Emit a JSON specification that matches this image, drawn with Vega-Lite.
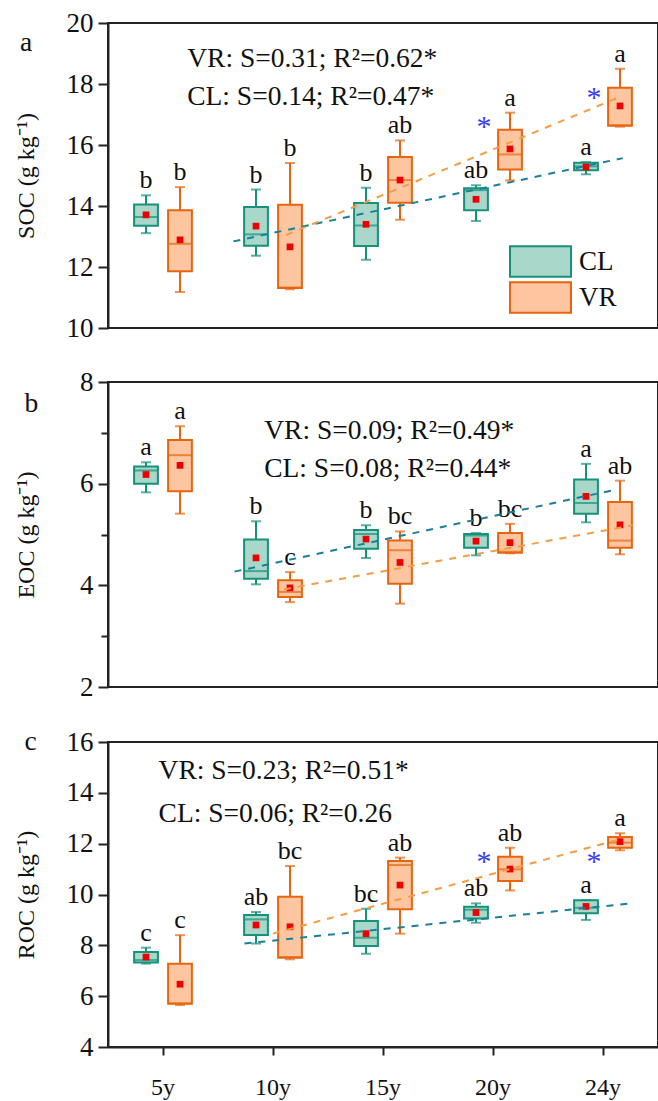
{
  "$schema": "https://vega.github.io/schema/vega-lite/v6.json",
  "padding": {"left": 13, "top": 8, "right": 0, "bottom": 0},
  "background": "white",
  "datasets": {
    "boxes": [
      {"var": "SOC", "year": "5y", "group": "CL", "lower": 13.11, "q1": 13.35, "median": 13.64, "q3": 14.05, "upper": 14.35, "mean": 13.71, "label": "b"},
      {"var": "SOC", "year": "5y", "group": "VR", "lower": 11.18, "q1": 11.86, "median": 12.76, "q3": 13.86, "upper": 14.62, "mean": 12.89, "label": "b"},
      {"var": "SOC", "year": "10y", "group": "CL", "lower": 12.37, "q1": 12.7, "median": 13.07, "q3": 13.97, "upper": 14.54, "mean": 13.34, "label": "b"},
      {"var": "SOC", "year": "10y", "group": "VR", "lower": 11.27, "q1": 11.31, "median": 11.33, "q3": 14.04, "upper": 15.41, "mean": 12.66, "label": "b"},
      {"var": "SOC", "year": "15y", "group": "CL", "lower": 12.24, "q1": 12.69, "median": 13.36, "q3": 14.1, "upper": 14.6, "mean": 13.4, "label": "b"},
      {"var": "SOC", "year": "15y", "group": "VR", "lower": 13.55, "q1": 14.11, "median": 14.85, "q3": 15.61, "upper": 16.15, "mean": 14.85, "label": "ab"},
      {"var": "SOC", "year": "20y", "group": "CL", "lower": 13.51, "q1": 13.86, "median": 14.52, "q3": 14.58, "upper": 14.68, "mean": 14.22, "label": "ab"},
      {"var": "SOC", "year": "20y", "group": "VR", "lower": 14.84, "q1": 15.2, "median": 15.69, "q3": 16.5, "upper": 17.06, "mean": 15.87, "label": "a"},
      {"var": "SOC", "year": "24y", "group": "CL", "lower": 15.04, "q1": 15.17, "median": 15.3, "q3": 15.42, "upper": 15.44, "mean": 15.28, "label": "a"},
      {"var": "SOC", "year": "24y", "group": "VR", "lower": 16.6, "q1": 16.63, "median": 16.65, "q3": 17.88, "upper": 18.5, "mean": 17.28, "label": "a"},
      {"var": "EOC", "year": "5y", "group": "CL", "lower": 5.83, "q1": 6.0, "median": 6.26, "q3": 6.34, "upper": 6.42, "mean": 6.18, "label": "a"},
      {"var": "EOC", "year": "5y", "group": "VR", "lower": 5.41, "q1": 5.85, "median": 6.56, "q3": 6.86, "upper": 7.13, "mean": 6.36, "label": "a"},
      {"var": "EOC", "year": "10y", "group": "CL", "lower": 4.02, "q1": 4.13, "median": 4.28, "q3": 4.9, "upper": 5.26, "mean": 4.54, "label": "b"},
      {"var": "EOC", "year": "10y", "group": "VR", "lower": 3.67, "q1": 3.77, "median": 3.87, "q3": 4.1, "upper": 4.26, "mean": 3.95, "label": "c"},
      {"var": "EOC", "year": "15y", "group": "CL", "lower": 4.54, "q1": 4.72, "median": 5.01, "q3": 5.09, "upper": 5.18, "mean": 4.91, "label": "b"},
      {"var": "EOC", "year": "15y", "group": "VR", "lower": 3.64, "q1": 4.03, "median": 4.69, "q3": 4.88, "upper": 5.06, "mean": 4.45, "label": "bc"},
      {"var": "EOC", "year": "20y", "group": "CL", "lower": 4.59, "q1": 4.74, "median": 4.98, "q3": 5.01, "upper": 5.03, "mean": 4.87, "label": "b"},
      {"var": "EOC", "year": "20y", "group": "VR", "lower": 4.63, "q1": 4.64, "median": 4.66, "q3": 5.03, "upper": 5.21, "mean": 4.84, "label": "bc"},
      {"var": "EOC", "year": "24y", "group": "CL", "lower": 5.24, "q1": 5.41, "median": 5.62, "q3": 6.08, "upper": 6.39, "mean": 5.75, "label": "a"},
      {"var": "EOC", "year": "24y", "group": "VR", "lower": 4.61, "q1": 4.74, "median": 4.88, "q3": 5.64, "upper": 6.06, "mean": 5.19, "label": "ab"},
      {"var": "ROC", "year": "5y", "group": "CL", "lower": 7.28, "q1": 7.32, "median": 7.42, "q3": 7.74, "upper": 7.91, "mean": 7.54, "label": "c"},
      {"var": "ROC", "year": "5y", "group": "VR", "lower": 5.65, "q1": 5.7, "median": 5.72, "q3": 7.28, "upper": 8.4, "mean": 6.47, "label": "c"},
      {"var": "ROC", "year": "10y", "group": "CL", "lower": 8.07, "q1": 8.41, "median": 9.02, "q3": 9.19, "upper": 9.31, "mean": 8.8, "label": "ab"},
      {"var": "ROC", "year": "10y", "group": "VR", "lower": 7.45, "q1": 7.51, "median": 7.54, "q3": 9.91, "upper": 11.12, "mean": 8.73, "label": "bc"},
      {"var": "ROC", "year": "15y", "group": "CL", "lower": 7.67, "q1": 7.97, "median": 8.3, "q3": 8.96, "upper": 9.44, "mean": 8.46, "label": "bc"},
      {"var": "ROC", "year": "15y", "group": "VR", "lower": 8.46, "q1": 9.42, "median": 11.16, "q3": 11.32, "upper": 11.45, "mean": 10.37, "label": "ab"},
      {"var": "ROC", "year": "20y", "group": "CL", "lower": 8.89, "q1": 9.06, "median": 9.4, "q3": 9.52, "upper": 9.65, "mean": 9.29, "label": "ab"},
      {"var": "ROC", "year": "20y", "group": "VR", "lower": 10.16, "q1": 10.53, "median": 10.99, "q3": 11.49, "upper": 11.84, "mean": 11.0, "label": "ab"},
      {"var": "ROC", "year": "24y", "group": "CL", "lower": 9.0, "q1": 9.26, "median": 9.48, "q3": 9.77, "upper": 9.78, "mean": 9.53, "label": "a"},
      {"var": "ROC", "year": "24y", "group": "VR", "lower": 11.74, "q1": 11.84, "median": 12.04, "q3": 12.26, "upper": 12.41, "mean": 12.08, "label": "a"}
    ],
    "trend": [
      {"var": "SOC", "group": "CL", "pos": 0.64, "value": 12.84},
      {"var": "SOC", "group": "CL", "pos": 4.18, "value": 15.57},
      {"var": "SOC", "group": "VR", "pos": 1.12, "value": 13.05},
      {"var": "SOC", "group": "VR", "pos": 4.17, "value": 17.6},
      {"var": "EOC", "group": "CL", "pos": 0.65, "value": 4.27},
      {"var": "EOC", "group": "CL", "pos": 4.09, "value": 5.87},
      {"var": "EOC", "group": "VR", "pos": 1.1, "value": 3.92},
      {"var": "EOC", "group": "VR", "pos": 4.27, "value": 5.18},
      {"var": "ROC", "group": "CL", "pos": 0.74, "value": 8.07},
      {"var": "ROC", "group": "CL", "pos": 4.23, "value": 9.64},
      {"var": "ROC", "group": "VR", "pos": 1.0, "value": 8.46},
      {"var": "ROC", "group": "VR", "pos": 4.15, "value": 12.17}
    ],
    "notes": [
      {"var": "SOC", "text": "VR: S=0.31; R²=0.62*", "pos": 0.22, "value": 18.56},
      {"var": "SOC", "text": "CL: S=0.14; R²=0.47*", "pos": 0.22, "value": 17.3},
      {"var": "SOC", "text": "a", "pos": -1.3, "value": 19.09},
      {"var": "EOC", "text": "VR: S=0.09; R²=0.49*", "pos": 0.92, "value": 6.88},
      {"var": "EOC", "text": "CL: S=0.08; R²=0.44*", "pos": 0.92, "value": 6.13},
      {"var": "EOC", "text": "b", "pos": -1.26, "value": 7.41},
      {"var": "ROC", "text": "VR: S=0.23; R²=0.51*", "pos": -0.04, "value": 14.53},
      {"var": "ROC", "text": "CL: S=0.06; R²=0.26", "pos": -0.04, "value": 12.85},
      {"var": "ROC", "text": "c", "pos": -1.26, "value": 15.7}
    ],
    "stars": [
      {"var": "SOC", "year": "20y", "value": 16.6},
      {"var": "SOC", "year": "24y", "value": 17.55},
      {"var": "ROC", "year": "20y", "value": 11.29},
      {"var": "ROC", "year": "24y", "value": 11.29}
    ]
  },
  "vconcat": [
    {
      "width": 550, "height": 305,
      "layer": [
        {
          "data": {"name": "boxes"},
          "transform": [{"filter": "datum.var == 'SOC'"}],
          "encoding": {
            "x": {"field": "year", "type": "nominal", "sort": ["5y","10y","15y","20y","24y"], "scale": {"domain": ["5y","10y","15y","20y","24y"], "paddingInner": 0, "paddingOuter": 0}, "axis": null},
            "xOffset": {"field": "group", "type": "nominal", "scale": {"domain": ["CL","VR"], "paddingInner": 0.3, "paddingOuter": 0.768}}
          },
          "layer": [
            {"mark": {"type": "rule", "strokeWidth": 2},
             "encoding": {
               "y": {"field": "lower", "type": "quantitative", "scale": {"domain": [10, 20], "nice": false, "zero": false},
                     "axis": {"values": [10,11,12,13,14,15,16,17,18,19,20], "labelExpr": "datum.value % 2 == 0 ? datum.label : ''", "tickSize": {"condition": {"test": "datum.value % 2 == 0", "value": 10}, "value": 7}, "title": "SOC (g kg⁻¹)", "titleX": -70}},
               "y2": {"field": "upper"},
               "stroke": {"field": "group", "type": "nominal", "scale": {"domain": ["CL","VR"], "range": ["#16917a","#e8650f"]},
                        "legend": {"title": null, "orient": "none", "legendX": 416, "legendY": 222, "symbolType": "M-2,-1H2V1H-2Z", "symbolSize": 930, "symbolStrokeWidth": 2, "labelFontSize": 27, "labelFont": "Liberation Serif", "labelColor": "#111", "labelOffset": 22, "rowPadding": -4}}}},
            {"mark": {"type": "bar", "strokeWidth": 2},
             "encoding": {
               "y": {"field": "q1", "type": "quantitative", "scale": {"domain": [10, 20], "nice": false, "zero": false}},
               "y2": {"field": "q3"},
               "fill": {"field": "group", "type": "nominal", "scale": {"domain": ["CL","VR"], "range": ["#a9d7ca","#fdc6a1"]},
                        "legend": {"title": null, "orient": "none", "legendX": 416, "legendY": 222, "symbolType": "M-2,-1H2V1H-2Z", "symbolSize": 930, "symbolStrokeWidth": 2, "labelFontSize": 27, "labelFont": "Liberation Serif", "labelColor": "#111", "labelOffset": 22, "rowPadding": -4}},
               "stroke": {"field": "group", "type": "nominal", "scale": {"domain": ["CL","VR"], "range": ["#16917a","#e8650f"]},
                        "legend": {"title": null, "orient": "none", "legendX": 416, "legendY": 222, "symbolType": "M-2,-1H2V1H-2Z", "symbolSize": 930, "symbolStrokeWidth": 2, "labelFontSize": 27, "labelFont": "Liberation Serif", "labelColor": "#111", "labelOffset": 22, "rowPadding": -4}}}},
            {"mark": {"type": "tick", "thickness": 2, "size": 10},
             "encoding": {
               "y": {"field": "lower", "type": "quantitative", "scale": {"domain": [10, 20], "nice": false, "zero": false}},
               "color": {"field": "group", "type": "nominal", "scale": {"domain": ["CL","VR"], "range": ["#16917a","#e8650f"]}, "legend": null}}},
            {"mark": {"type": "tick", "thickness": 2, "size": 10},
             "encoding": {
               "y": {"field": "upper", "type": "quantitative", "scale": {"domain": [10, 20], "nice": false, "zero": false}},
               "color": {"field": "group", "type": "nominal", "scale": {"domain": ["CL","VR"], "range": ["#16917a","#e8650f"]}, "legend": null}}},
            {"mark": {"type": "tick", "thickness": 2, "size": 23},
             "encoding": {
               "y": {"field": "median", "type": "quantitative", "scale": {"domain": [10, 20], "nice": false, "zero": false}},
               "color": {"field": "group", "type": "nominal", "scale": {"domain": ["CL","VR"], "range": ["#16917a","#e8650f"]}, "legend": null}}},
            {"mark": {"type": "square", "size": 45, "color": "#ee0000", "filled": true, "opacity": 1},
             "encoding": {"y": {"field": "mean", "type": "quantitative", "scale": {"domain": [10, 20], "nice": false, "zero": false}}}},
            {"mark": {"type": "text", "dy": -7, "baseline": "alphabetic", "fontSize": 26, "font": "Liberation Serif", "color": "#111"},
             "encoding": {"y": {"field": "upper", "type": "quantitative", "scale": {"domain": [10, 20], "nice": false, "zero": false}}, "text": {"field": "label"}}}
          ]
        },
        {
          "data": {"name": "stars"},
          "transform": [{"filter": "datum.var == 'SOC'"}],
          "mark": {"type": "text", "text": "*", "color": "#3b3bf5", "fontSize": 30, "dx": -9, "baseline": "middle", "font": "Liberation Serif"},
          "encoding": {
            "x": {"field": "year", "type": "nominal", "sort": ["5y","10y","15y","20y","24y"], "scale": {"domain": ["5y","10y","15y","20y","24y"], "paddingInner": 0, "paddingOuter": 0}, "axis": null},
            "y": {"field": "value", "type": "quantitative", "scale": {"domain": [10, 20], "nice": false, "zero": false}}
          }
        },
        {
          "layer": [
            {"data": {"name": "trend"}, "transform": [{"filter": "datum.var == 'SOC'"}],
             "mark": {"type": "line", "strokeDash": [7, 7], "strokeWidth": 2},
             "encoding": {
               "x": {"field": "pos", "type": "quantitative", "scale": {"domain": [-0.5, 4.5], "nice": false, "zero": false}, "axis": null},
               "y": {"field": "value", "type": "quantitative", "scale": {"domain": [10, 20], "nice": false, "zero": false}},
               "color": {"field": "group", "type": "nominal", "scale": {"domain": ["CL","VR"], "range": ["#1a7f98","#f59d45"]}, "legend": null}}},
            {"data": {"name": "notes"}, "transform": [{"filter": "datum.var == 'SOC'"}],
             "mark": {"type": "text", "align": "left", "baseline": "alphabetic", "fontSize": 27.5, "font": "Liberation Serif", "color": "#111"},
             "encoding": {
               "x": {"field": "pos", "type": "quantitative", "scale": {"domain": [-0.5, 4.5], "nice": false, "zero": false}, "axis": null},
               "y": {"field": "value", "type": "quantitative", "scale": {"domain": [10, 20], "nice": false, "zero": false}},
               "text": {"field": "text"}}}
          ]
        }
      ],
      "resolve": {"scale": {"x": "independent", "color": "independent"}}
    },
    {
      "width": 550, "height": 305,
      "layer": [
        {
          "data": {"name": "boxes"},
          "transform": [{"filter": "datum.var == 'EOC'"}],
          "encoding": {
            "x": {"field": "year", "type": "nominal", "sort": ["5y","10y","15y","20y","24y"], "scale": {"domain": ["5y","10y","15y","20y","24y"], "paddingInner": 0, "paddingOuter": 0}, "axis": null},
            "xOffset": {"field": "group", "type": "nominal", "scale": {"domain": ["CL","VR"], "paddingInner": 0.3, "paddingOuter": 0.768}}
          },
          "layer": [
            {"mark": {"type": "rule", "strokeWidth": 2},
             "encoding": {
               "y": {"field": "lower", "type": "quantitative", "scale": {"domain": [2, 8], "nice": false, "zero": false},
                     "axis": {"values": [2,3,4,5,6,7,8], "labelExpr": "datum.value % 2 == 0 ? datum.label : ''", "tickSize": {"condition": {"test": "datum.value % 2 == 0", "value": 10}, "value": 7}, "title": "EOC (g kg⁻¹)", "titleX": -70}},
               "y2": {"field": "upper"},
               "stroke": {"field": "group", "type": "nominal", "scale": {"domain": ["CL","VR"], "range": ["#16917a","#e8650f"]}, "legend": null}}},
            {"mark": {"type": "bar", "strokeWidth": 2},
             "encoding": {
               "y": {"field": "q1", "type": "quantitative", "scale": {"domain": [2, 8], "nice": false, "zero": false}},
               "y2": {"field": "q3"},
               "fill": {"field": "group", "type": "nominal", "scale": {"domain": ["CL","VR"], "range": ["#a9d7ca","#fdc6a1"]}, "legend": null},
               "stroke": {"field": "group", "type": "nominal", "scale": {"domain": ["CL","VR"], "range": ["#16917a","#e8650f"]}, "legend": null}}},
            {"mark": {"type": "tick", "thickness": 2, "size": 10},
             "encoding": {
               "y": {"field": "lower", "type": "quantitative", "scale": {"domain": [2, 8], "nice": false, "zero": false}},
               "color": {"field": "group", "type": "nominal", "scale": {"domain": ["CL","VR"], "range": ["#16917a","#e8650f"]}, "legend": null}}},
            {"mark": {"type": "tick", "thickness": 2, "size": 10},
             "encoding": {
               "y": {"field": "upper", "type": "quantitative", "scale": {"domain": [2, 8], "nice": false, "zero": false}},
               "color": {"field": "group", "type": "nominal", "scale": {"domain": ["CL","VR"], "range": ["#16917a","#e8650f"]}, "legend": null}}},
            {"mark": {"type": "tick", "thickness": 2, "size": 23},
             "encoding": {
               "y": {"field": "median", "type": "quantitative", "scale": {"domain": [2, 8], "nice": false, "zero": false}},
               "color": {"field": "group", "type": "nominal", "scale": {"domain": ["CL","VR"], "range": ["#16917a","#e8650f"]}, "legend": null}}},
            {"mark": {"type": "square", "size": 45, "color": "#ee0000", "filled": true, "opacity": 1},
             "encoding": {"y": {"field": "mean", "type": "quantitative", "scale": {"domain": [2, 8], "nice": false, "zero": false}}}},
            {"mark": {"type": "text", "dy": -7, "baseline": "alphabetic", "fontSize": 26, "font": "Liberation Serif", "color": "#111"},
             "encoding": {"y": {"field": "upper", "type": "quantitative", "scale": {"domain": [2, 8], "nice": false, "zero": false}}, "text": {"field": "label"}}}
          ]
        },
        {
          "layer": [
            {"data": {"name": "trend"}, "transform": [{"filter": "datum.var == 'EOC'"}],
             "mark": {"type": "line", "strokeDash": [7, 7], "strokeWidth": 2},
             "encoding": {
               "x": {"field": "pos", "type": "quantitative", "scale": {"domain": [-0.5, 4.5], "nice": false, "zero": false}, "axis": null},
               "y": {"field": "value", "type": "quantitative", "scale": {"domain": [2, 8], "nice": false, "zero": false}},
               "color": {"field": "group", "type": "nominal", "scale": {"domain": ["CL","VR"], "range": ["#1a7f98","#f59d45"]}, "legend": null}}},
            {"data": {"name": "notes"}, "transform": [{"filter": "datum.var == 'EOC'"}],
             "mark": {"type": "text", "align": "left", "baseline": "alphabetic", "fontSize": 27.5, "font": "Liberation Serif", "color": "#111"},
             "encoding": {
               "x": {"field": "pos", "type": "quantitative", "scale": {"domain": [-0.5, 4.5], "nice": false, "zero": false}, "axis": null},
               "y": {"field": "value", "type": "quantitative", "scale": {"domain": [2, 8], "nice": false, "zero": false}},
               "text": {"field": "text"}}}
          ]
        }
      ],
      "resolve": {"scale": {"x": "independent", "color": "independent"}}
    },
    {
      "width": 550, "height": 305,
      "layer": [
        {
          "data": {"name": "boxes"},
          "transform": [{"filter": "datum.var == 'ROC'"}],
          "encoding": {
            "x": {"field": "year", "type": "nominal", "sort": ["5y","10y","15y","20y","24y"], "scale": {"domain": ["5y","10y","15y","20y","24y"], "paddingInner": 0, "paddingOuter": 0},
                  "axis": {"title": null, "labelAngle": 0, "tickSize": 8, "labelPadding": 20, "labelFontSize": 24, "domain": true}},
            "xOffset": {"field": "group", "type": "nominal", "scale": {"domain": ["CL","VR"], "paddingInner": 0.3, "paddingOuter": 0.768}}
          },
          "layer": [
            {"mark": {"type": "rule", "strokeWidth": 2},
             "encoding": {
               "y": {"field": "lower", "type": "quantitative", "scale": {"domain": [4, 16], "nice": false, "zero": false},
                     "axis": {"values": [4,5,6,7,8,9,10,11,12,13,14,15,16], "labelExpr": "datum.value % 2 == 0 ? datum.label : ''", "tickSize": {"condition": {"test": "datum.value % 2 == 0", "value": 10}, "value": 7}, "title": "ROC (g kg⁻¹)", "titleX": -70}},
               "y2": {"field": "upper"},
               "stroke": {"field": "group", "type": "nominal", "scale": {"domain": ["CL","VR"], "range": ["#16917a","#e8650f"]}, "legend": null}}},
            {"mark": {"type": "bar", "strokeWidth": 2},
             "encoding": {
               "y": {"field": "q1", "type": "quantitative", "scale": {"domain": [4, 16], "nice": false, "zero": false}},
               "y2": {"field": "q3"},
               "fill": {"field": "group", "type": "nominal", "scale": {"domain": ["CL","VR"], "range": ["#a9d7ca","#fdc6a1"]}, "legend": null},
               "stroke": {"field": "group", "type": "nominal", "scale": {"domain": ["CL","VR"], "range": ["#16917a","#e8650f"]}, "legend": null}}},
            {"mark": {"type": "tick", "thickness": 2, "size": 10},
             "encoding": {
               "y": {"field": "lower", "type": "quantitative", "scale": {"domain": [4, 16], "nice": false, "zero": false}},
               "color": {"field": "group", "type": "nominal", "scale": {"domain": ["CL","VR"], "range": ["#16917a","#e8650f"]}, "legend": null}}},
            {"mark": {"type": "tick", "thickness": 2, "size": 10},
             "encoding": {
               "y": {"field": "upper", "type": "quantitative", "scale": {"domain": [4, 16], "nice": false, "zero": false}},
               "color": {"field": "group", "type": "nominal", "scale": {"domain": ["CL","VR"], "range": ["#16917a","#e8650f"]}, "legend": null}}},
            {"mark": {"type": "tick", "thickness": 2, "size": 23},
             "encoding": {
               "y": {"field": "median", "type": "quantitative", "scale": {"domain": [4, 16], "nice": false, "zero": false}},
               "color": {"field": "group", "type": "nominal", "scale": {"domain": ["CL","VR"], "range": ["#16917a","#e8650f"]}, "legend": null}}},
            {"mark": {"type": "square", "size": 45, "color": "#ee0000", "filled": true, "opacity": 1},
             "encoding": {"y": {"field": "mean", "type": "quantitative", "scale": {"domain": [4, 16], "nice": false, "zero": false}}}},
            {"mark": {"type": "text", "dy": -7, "baseline": "alphabetic", "fontSize": 26, "font": "Liberation Serif", "color": "#111"},
             "encoding": {"y": {"field": "upper", "type": "quantitative", "scale": {"domain": [4, 16], "nice": false, "zero": false}}, "text": {"field": "label"}}}
          ]
        },
        {
          "data": {"name": "stars"},
          "transform": [{"filter": "datum.var == 'ROC'"}],
          "mark": {"type": "text", "text": "*", "color": "#3b3bf5", "fontSize": 30, "dx": -9, "baseline": "middle", "font": "Liberation Serif"},
          "encoding": {
            "x": {"field": "year", "type": "nominal", "sort": ["5y","10y","15y","20y","24y"], "scale": {"domain": ["5y","10y","15y","20y","24y"], "paddingInner": 0, "paddingOuter": 0}, "axis": null},
            "y": {"field": "value", "type": "quantitative", "scale": {"domain": [4, 16], "nice": false, "zero": false}}
          }
        },
        {
          "layer": [
            {"data": {"name": "trend"}, "transform": [{"filter": "datum.var == 'ROC'"}],
             "mark": {"type": "line", "strokeDash": [7, 7], "strokeWidth": 2},
             "encoding": {
               "x": {"field": "pos", "type": "quantitative", "scale": {"domain": [-0.5, 4.5], "nice": false, "zero": false}, "axis": null},
               "y": {"field": "value", "type": "quantitative", "scale": {"domain": [4, 16], "nice": false, "zero": false}},
               "color": {"field": "group", "type": "nominal", "scale": {"domain": ["CL","VR"], "range": ["#1a7f98","#f59d45"]}, "legend": null}}},
            {"data": {"name": "notes"}, "transform": [{"filter": "datum.var == 'ROC'"}],
             "mark": {"type": "text", "align": "left", "baseline": "alphabetic", "fontSize": 27.5, "font": "Liberation Serif", "color": "#111"},
             "encoding": {
               "x": {"field": "pos", "type": "quantitative", "scale": {"domain": [-0.5, 4.5], "nice": false, "zero": false}, "axis": null},
               "y": {"field": "value", "type": "quantitative", "scale": {"domain": [4, 16], "nice": false, "zero": false}},
               "text": {"field": "text"}}}
          ]
        }
      ],
      "resolve": {"scale": {"x": "independent", "color": "independent"}}
    }
  ],
  "spacing": 25,
  "config": {
    "font": "Liberation Serif",
    "view": {"stroke": "#222", "strokeWidth": 2},
    "axis": {"domainColor": "#222", "domainWidth": 2, "tickColor": "#222", "tickWidth": 2, "labelColor": "#111", "labelFont": "Liberation Serif", "labelFontSize": 27, "labelPadding": 5, "titleFont": "Liberation Serif", "titleFontSize": 24, "titleFontWeight": "normal", "titleColor": "#111", "grid": false},
    "legend": {"labelFont": "Liberation Serif"}
  }
}
